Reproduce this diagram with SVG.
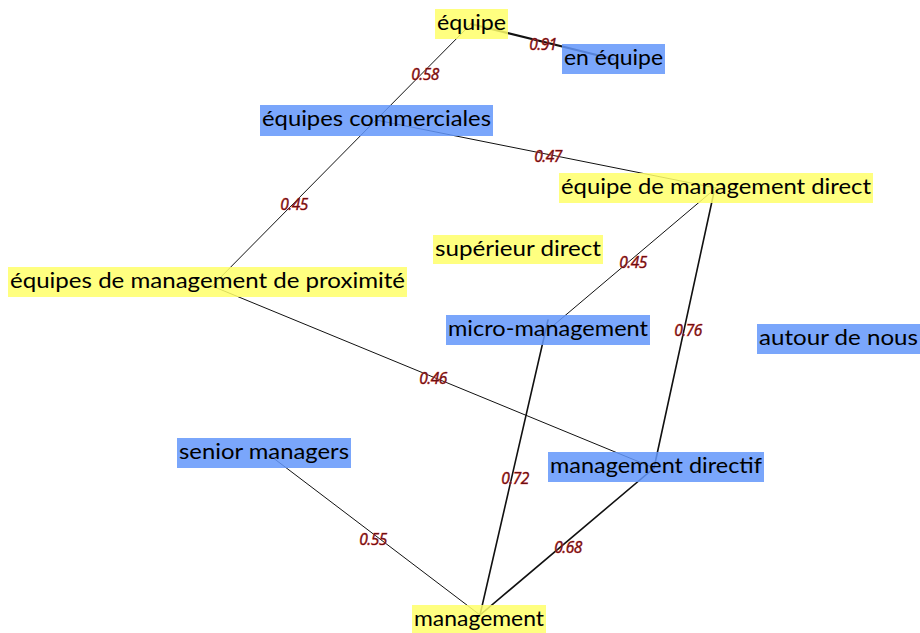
<svg xmlns="http://www.w3.org/2000/svg" width="920" height="633" viewBox="0 0 920 633">
<defs>
<style>
.edge{stroke:#111;fill:none;stroke-linecap:round}
.w1{stroke-width:1}
.w15{stroke-width:1.6}
.w2{stroke-width:2.2}
.el{font-family:"Open Sans",Lato,"Liberation Sans",sans-serif;font-style:italic;font-size:15.5px;fill:#6a0f0f;stroke:#e85050;stroke-width:0.6;paint-order:stroke;text-anchor:middle;letter-spacing:-0.5px}
.box{fill-opacity:0.85}
.y{fill:#ffff6a}
.b{fill:#6396fa}
.lbl{font-family:Lato,"Open Sans","Liberation Sans",sans-serif;font-size:22px;fill:#000}
</style>
</defs>
<rect width="920" height="633" fill="#fff"/>
<g id="connectors">
<line class="edge w2" x1="471" y1="24" x2="613" y2="59"/>
<line class="edge w1" x1="471" y1="24" x2="376" y2="120"/>
<line class="edge w1" x1="376" y1="120" x2="212" y2="286"/>
<line class="edge w1" x1="376" y1="120" x2="716" y2="188"/>
<line class="edge w1" x1="716" y1="188" x2="548" y2="330"/>
<line class="edge w15" x1="714" y1="192" x2="654" y2="468"/>
<line class="edge w1" x1="212" y1="286" x2="654" y2="468"/>
<line class="edge w15" x1="548" y1="320" x2="480" y2="615"/>
<line class="edge w15" x1="654" y1="468" x2="480" y2="615"/>
<line class="edge w1" x1="268" y1="454" x2="480" y2="615"/>
<text class="el" x="543" y="50">0.91</text>
<text class="el" x="425" y="80">0.58</text>
<text class="el" x="294" y="210">0.45</text>
<text class="el" x="548" y="162">0.47</text>
<text class="el" x="633" y="268">0.45</text>
<text class="el" x="688" y="336">0.76</text>
<text class="el" x="433" y="384">0.46</text>
<text class="el" x="515" y="484">0.72</text>
<text class="el" x="568" y="553">0.68</text>
<text class="el" x="373" y="545">0.55</text>
</g>
<g id="n-equipe"><rect class="box y" x="435" y="9" width="73" height="30"/><text class="lbl" x="437" y="30" textLength="69" lengthAdjust="spacingAndGlyphs">équipe</text></g>
<g id="n-en-equipe"><rect class="box b" x="562" y="44" width="103" height="30"/><text class="lbl" x="564" y="65" textLength="99" lengthAdjust="spacingAndGlyphs">en équipe</text></g>
<g id="n-equipes-commerciales"><rect class="box b" x="260" y="105" width="233" height="31"/><text class="lbl" x="262" y="126" textLength="229" lengthAdjust="spacingAndGlyphs">équipes commerciales</text></g>
<g id="n-equipe-management-direct"><rect class="box y" x="559" y="173" width="314" height="30"/><text class="lbl" x="561" y="194" textLength="310" lengthAdjust="spacingAndGlyphs">équipe de management direct</text></g>
<g id="n-superieur-direct"><rect class="box y" x="433" y="235" width="170" height="29"/><text class="lbl" x="435" y="256" textLength="166" lengthAdjust="spacingAndGlyphs">supérieur direct</text></g>
<g id="n-equipes-proximite"><rect class="box y" x="8" y="267" width="399" height="30"/><text class="lbl" x="10" y="288" textLength="395" lengthAdjust="spacingAndGlyphs">équipes de management de proximité</text></g>
<g id="n-micro-management"><rect class="box b" x="446" y="315" width="204" height="30"/><text class="lbl" x="448" y="336" textLength="200" lengthAdjust="spacingAndGlyphs">micro-management</text></g>
<g id="n-autour-de-nous"><rect class="box b" x="757" y="324" width="163" height="30"/><text class="lbl" x="759" y="345" textLength="159" lengthAdjust="spacingAndGlyphs">autour de nous</text></g>
<g id="n-management-directif"><rect class="box b" x="548" y="452" width="216" height="30"/><text class="lbl" x="550" y="473" textLength="212" lengthAdjust="spacingAndGlyphs">management directif</text></g>
<g id="n-senior-managers"><rect class="box b" x="177" y="438" width="174" height="30"/><text class="lbl" x="179" y="459" textLength="170" lengthAdjust="spacingAndGlyphs">senior managers</text></g>
<g id="n-management"><rect class="box y" x="412" y="605" width="134" height="30"/><text class="lbl" x="414" y="626" textLength="130" lengthAdjust="spacingAndGlyphs">management</text></g>
</svg>
